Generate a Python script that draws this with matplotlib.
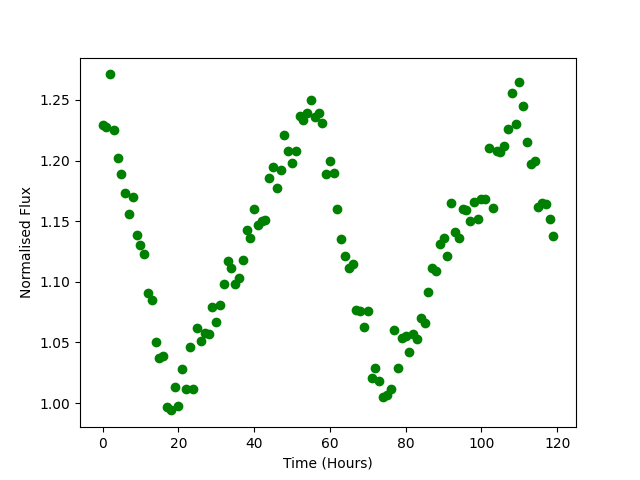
import matplotlib
matplotlib.use("Agg")
import matplotlib.pyplot as plt
import numpy as np

# time in hours
hours = np.arange(0, 120)

# normalised flux
flux = [1.229, 1.228, 1.271, 1.225, 1.202, 1.189, 1.173, 1.156, 1.170, 1.139,
        1.130, 1.123, 1.091, 1.085, 1.050, 1.037, 1.039, 0.997, 0.994, 1.013,
        0.998, 1.028, 1.012, 1.046, 1.012, 1.062, 1.051, 1.058, 1.057, 1.079,
        1.067, 1.081, 1.098, 1.117, 1.111, 1.098, 1.103, 1.118, 1.143, 1.136,
        1.160, 1.147, 1.150, 1.151, 1.186, 1.195, 1.177, 1.192, 1.221, 1.208,
        1.198, 1.208, 1.237, 1.233, 1.239, 1.250, 1.236, 1.239, 1.231, 1.189,
        1.200, 1.190, 1.160, 1.135, 1.121, 1.111, 1.115, 1.077, 1.076, 1.063,
        1.076, 1.021, 1.029, 1.018, 1.005, 1.007, 1.012, 1.060, 1.029, 1.054,
        1.055, 1.042, 1.057, 1.053, 1.070, 1.066, 1.092, 1.111, 1.109, 1.131,
        1.136, 1.121, 1.165, 1.141, 1.136, 1.160, 1.159, 1.150, 1.166, 1.152,
        1.168, 1.168, 1.210, 1.161, 1.208, 1.207, 1.212, 1.226, 1.256, 1.230,
        1.265, 1.245, 1.215, 1.197, 1.200, 1.162, 1.165, 1.164, 1.152, 1.138]


def main():
    plt.figure(figsize=(6.4, 4.8), dpi=100)
    plt.plot(hours, flux, 'o', color='green')
    plt.xlabel("Time (Hours)")
    plt.ylabel("Normalised Flux")
    plt.savefig("out.png")


if __name__ == "__main__":
    main()
